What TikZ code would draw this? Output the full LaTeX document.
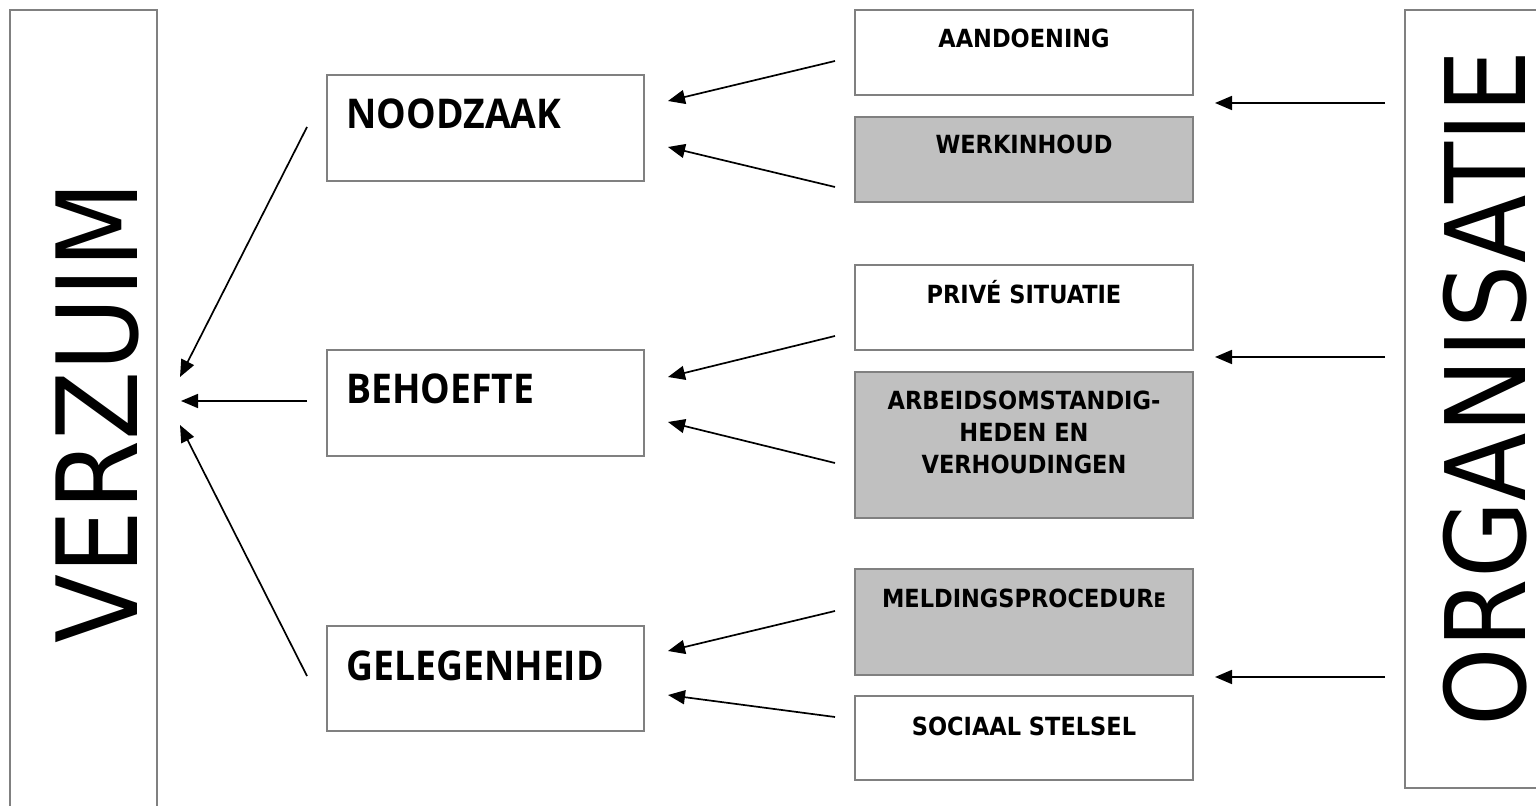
\documentclass[tikz,border=0pt]{standalone}
\usepackage{fontspec}
\setmainfont{DejaVu Sans Condensed}
\newfontfamily\leftfont[FakeStretch=0.91]{Open Sans}
\usetikzlibrary{arrows.meta}
\definecolor{boxgray}{HTML}{C0C0C0}
\definecolor{edgegray}{HTML}{808080}
\begin{document}
\begin{tikzpicture}[x=0.5pt,y=-0.5pt,
  frame/.style={draw=edgegray, line width=0.6pt, inner sep=0pt, outer sep=0pt},
  wbox/.style={frame, fill=white, minimum width=169pt},
  gbox/.style={frame, fill=boxgray, minimum width=169pt},
  lbox/.style={frame, fill=white, minimum width=158.5pt, minimum height=53pt},
  rtext/.style={anchor=base, inner sep=0pt, font=\fontsize{12.5}{16}\selectfont\bfseries, align=center},
  ltext/.style={anchor=base west, inner sep=0pt, font=\leftfont\fontsize{20.5}{26}\selectfont\bfseries},
  bigtext/.style={anchor=base, inner sep=0pt, rotate=90},
  arr/.style={line width=0.85pt, -{Triangle[length=8.5pt,width=7pt]}}
]
\useasboundingbox (0,0) rectangle (1536,806);
% side frames
\node[frame, minimum width=73.5pt, minimum height=410pt] (verz) at (83.5,420) {};
\node[frame, minimum width=77.5pt, minimum height=389pt] (org) at (1482.5,399) {};
\node[bigtext, font=\fontsize{56}{60}\selectfont] (verzt) at (137,412) {VERZUIM};
\node[bigtext, font=\fontsize{55.5}{60}\selectfont] (orgt) at (1525,388.5) {ORGANISATIE};
% middle boxes
\node[lbox] (nood) at (485.5,128) {};
\node[lbox] (beh) at (485.5,403) {};
\node[lbox, minimum height=52.5pt] (gel) at (485.5,678.5) {};
\node[ltext] (noodt) at (346,129) {NOODZAAK};
\node[ltext] (beht) at (346,404) {BEHOEFTE};
\node[ltext] (gelt) at (346,680) {GELEGENHEID};
% right boxes
\node[wbox, minimum height=42.5pt] (aand) at (1024,52.5) {};
\node[gbox, minimum height=42.5pt] (werk) at (1024,159.5) {};
\node[wbox, minimum height=42.5pt] (priv) at (1024,307.5) {};
\node[gbox, minimum height=73pt] (arb) at (1024,445) {};
\node[gbox, minimum height=53pt] (meld) at (1024,622) {};
\node[wbox, minimum height=42pt] (soc) at (1024,738) {};
\node[rtext] (aandt) at (1024,48) {AANDOENING};
\node[rtext] (werkt) at (1024,154) {WERKINHOUD};
\node[rtext] (privt) at (1024,304) {PRIVÉ SITUATIE};
\node[rtext, anchor=north] (arbt) at (1024,391) {ARBEIDSOMSTANDIG-\\HEDEN EN\\VERHOUDINGEN};
\node[rtext] (meldt) at (1024,607) {MELDINGSPROCEDUR{\fontsize{10}{12}\selectfont E}};
\node[rtext] (soct) at (1024,735) {SOCIAAL STELSEL};
% connector end points
\coordinate (s1) at (835,61);  \coordinate (e1) at (668,101);
\coordinate (s2) at (835,187); \coordinate (e2) at (668,147);
\coordinate (s3) at (835,336); \coordinate (e3) at (668,377);
\coordinate (s4) at (835,463); \coordinate (e4) at (668,422);
\coordinate (s5) at (835,611); \coordinate (e5) at (668,651);
\coordinate (s6) at (835,717); \coordinate (e6) at (668,695);
\coordinate (s7) at (1385,103); \coordinate (e7) at (1215,103);
\coordinate (s8) at (1385,357); \coordinate (e8) at (1215,357);
\coordinate (s9) at (1385,677); \coordinate (e9) at (1215,677);
\coordinate (s10) at (307,127); \coordinate (e10) at (180,377);
\coordinate (s11) at (307,401); \coordinate (e11) at (181,401);
\coordinate (s12) at (307,676); \coordinate (e12) at (180,425);
\foreach \i in {1,...,12} { \draw[arr] (s\i) -- (e\i); }
\end{tikzpicture}
\end{document}
